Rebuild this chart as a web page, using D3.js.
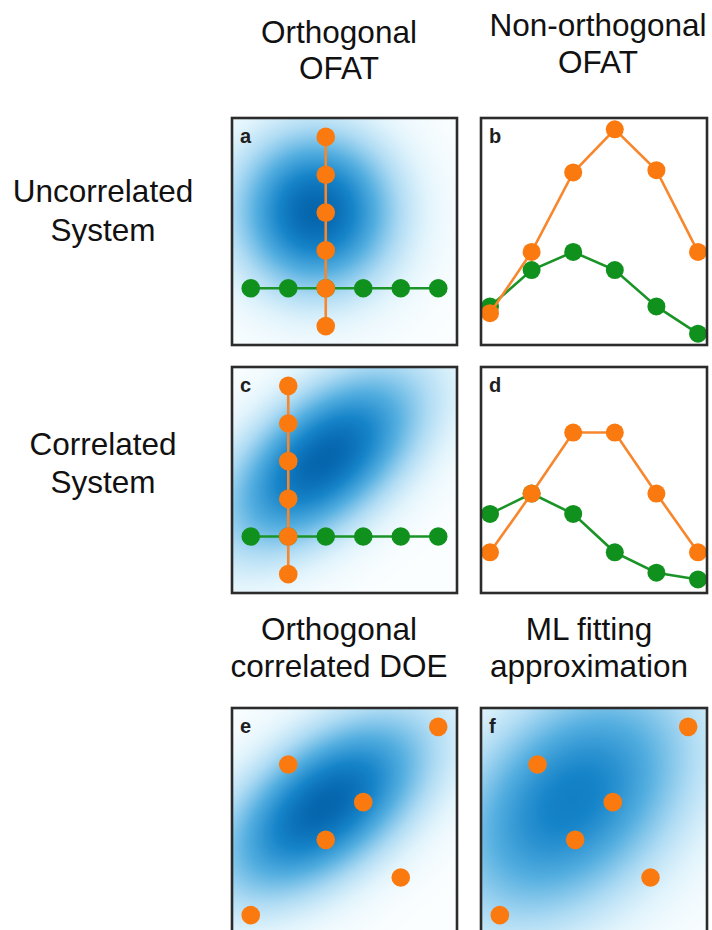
<!DOCTYPE html>
<html><head><meta charset="utf-8">
<script src="https://cdn.jsdelivr.net/npm/d3@7"></script>
<style>html,body{margin:0;padding:0;background:#fff;} svg{display:block;}</style>
</head><body>
<svg id="fig" width="712" height="930"></svg>
<script>
// Six settings per factor on every design axis
const levels = [0, 1, 2, 3, 4, 5];

// OFAT sweeps on the design grid: [x level, y level]
const sweepA_green  = [[0,1],[1,1],[2,1],[3,1],[4,1],[5,1]];
const sweepA_orange = [[2,0],[2,1],[2,2],[2,3],[2,4],[2,5]];
const sweepC_green  = [[0,1],[1,1],[2,1],[3,1],[4,1],[5,1]];
const sweepC_orange = [[1,0],[1,1],[1,2],[1,3],[1,4],[1,5]];

// Measured response along each sweep
const respB_orange = [1.4, 4.1, 7.6, 9.5, 7.7, 4.1];
const respB_green  = [1.7, 3.3, 4.1, 3.3, 1.7, 0.5];
const respD_orange = [1.8, 4.4, 7.1, 7.1, 4.4, 1.8];
const respD_green  = [3.5, 4.4, 3.5, 1.8, 0.9, 0.6];

// Space-filling design points
const doePoints = [[5,5],[1,4],[3,3],[2,2],[4,1],[0,0]];

// Response surfaces: centre x, centre y, sigma along axis, sigma across, angle (deg), peak
const surfA = [1.74, 3.02, 1.40, 1.40, 0, 1.0];
const surfC = [1.95, 3.05, 2.05, 1.10, 40, 1.0];
const surfE = [1.98, 2.90, 2.15, 1.15, 38, 1.0];
const surfF = [1.90, 3.05, 2.55, 1.70, 45, 0.82];

// Labels
const colTitlesTop = [["Orthogonal", "OFAT"], ["Non-orthogonal", "OFAT"]];
const rowTitles = [["Uncorrelated", "System"], ["Correlated", "System"]];
const colTitlesBottom = [["Orthogonal", "correlated DOE"], ["ML fitting", "approximation"]];
const panelLetters = ["a", "b", "c", "d", "e", "f"];

// Layout
const colX = [232, 481];
const colW = [225, 226];
const rowY = [118, 367, 708];
const rowH = [227, 226, 226];

const ORANGE = "#fb7a10", ORANGE_LINE = "#f7862c";
const GREEN = "#10901c", GREEN_LINE = "#1a9426";
const FONT = "'Liberation Sans', Arial, Helvetica, sans-serif";

const heatColor = d3.scaleLinear()
  .domain([0, 0.1, 0.28, 0.52, 0.78, 1])
  .range(["#fbfeff", "#e2f4fc", "#acdaf3", "#55afe0", "#1684c9", "#0565ad"])
  .interpolate(d3.interpolateRgb)
  .clamp(true);

const svg = d3.select("#fig");
const defs = svg.append("defs");

function panelFrame(col, row) {
  const x0 = colX[col], y0 = rowY[row], w = colW[col], h = rowH[row];
  return {x0, y0, w, h};
}

function gridScales(f) {
  const x = d3.scaleLinear().domain([-0.5, 5.5]).range([f.x0, f.x0 + f.w]);
  const y = d3.scaleLinear().domain([-0.5, 5.5]).range([f.y0 + f.h, f.y0]);
  return {x, y};
}

function drawHeat(g, f, sc, surf, id) {
  const [cx, cy, sa, sb, ang, peak] = surf;
  const th = ang * Math.PI / 180, c = Math.cos(th), s = Math.sin(th);
  const cv = document.createElement("canvas");
  cv.width = f.w; cv.height = f.h;
  const ctx = cv.getContext("2d");
  const img = ctx.createImageData(f.w, f.h);
  for (let py = 0; py < f.h; py++) {
    const dy = sc.y.invert(f.y0 + py + 0.5) - cy;
    for (let px = 0; px < f.w; px++) {
      const dx = sc.x.invert(f.x0 + px + 0.5) - cx;
      const u = dx * c + dy * s, v = -dx * s + dy * c;
      const val = peak * Math.exp(-0.5 * (u * u / (sa * sa) + v * v / (sb * sb)));
      const col = d3.rgb(heatColor(val));
      const k = (py * f.w + px) * 4;
      img.data[k] = col.r; img.data[k + 1] = col.g; img.data[k + 2] = col.b; img.data[k + 3] = 255;
    }
  }
  ctx.putImageData(img, 0, 0);
  defs.append("clipPath").attr("id", id)
    .append("rect").attr("x", f.x0).attr("y", f.y0).attr("width", f.w).attr("height", f.h);
  g.append("image")
    .attr("x", f.x0).attr("y", f.y0).attr("width", f.w).attr("height", f.h)
    .attr("preserveAspectRatio", "none")
    .attr("clip-path", `url(#${id})`)
    .attr("href", cv.toDataURL());
}

function drawSeries(g, pts, color, lineColor, r, withLine) {
  if (withLine) {
    g.append("path")
      .attr("d", d3.line().x(d => d[0]).y(d => d[1])(pts))
      .attr("fill", "none").attr("stroke", lineColor).attr("stroke-width", 2.6);
  }
  g.selectAll(null).data(pts).join("circle")
    .attr("cx", d => d[0]).attr("cy", d => d[1]).attr("r", r)
    .attr("fill", color);
}

function drawBorder(g, f, letter) {
  g.append("rect")
    .attr("x", f.x0).attr("y", f.y0).attr("width", f.w).attr("height", f.h)
    .attr("fill", "none").attr("stroke", "#2b2b2b").attr("stroke-width", 2.6);
  g.append("text")
    .attr("x", f.x0 + 8).attr("y", f.y0 + 25)
    .attr("font-family", FONT).attr("font-weight", "bold").attr("font-size", 20)
    .attr("fill", "#1e1e1e").text(letter);
}

// Design-space panels (a, c)
function ofatPanel(col, row, surf, greenSweep, orangeSweep, letter, id) {
  const f = panelFrame(col, row), sc = gridScales(f);
  const g = svg.append("g");
  drawHeat(g, f, sc, surf, id);
  const gp = greenSweep.map(d => [sc.x(levels[d[0]]), sc.y(levels[d[1]])]);
  const op = orangeSweep.map(d => [sc.x(levels[d[0]]), sc.y(levels[d[1]])]);
  drawSeries(g, gp, GREEN, GREEN_LINE, 9.3, true);
  drawSeries(g, op, ORANGE, ORANGE_LINE, 9.3, true);
  drawBorder(g, f, letter);
}

// Response panels (b, d)
function responsePanel(col, row, green, orange, letter) {
  const f = panelFrame(col, row);
  const x = d3.scaleLinear().domain([0, 5]).range([f.x0 + 9, f.x0 + f.w - 9]);
  const y = d3.scaleLinear().domain([0, 10]).range([f.y0 + f.h, f.y0]);
  const g = svg.append("g");
  defs.append("clipPath").attr("id", "clip" + letter)
    .append("rect").attr("x", f.x0).attr("y", f.y0).attr("width", f.w).attr("height", f.h);
  const inner = g.append("g").attr("clip-path", `url(#clip${letter})`);
  drawSeries(inner, green.map((v, i) => [x(levels[i]), y(v)]), GREEN, GREEN_LINE, 9, true);
  drawSeries(inner, orange.map((v, i) => [x(levels[i]), y(v)]), ORANGE, ORANGE_LINE, 9, true);
  drawBorder(g, f, letter);
}

// DOE panels (e, f)
function doePanel(col, row, surf, letter, id) {
  const f = panelFrame(col, row), sc = gridScales(f);
  const g = svg.append("g");
  drawHeat(g, f, sc, surf, id);
  drawSeries(g, doePoints.map(d => [sc.x(levels[d[0]]), sc.y(levels[d[1]])]), ORANGE, ORANGE_LINE, 9.3, false);
  drawBorder(g, f, letter);
}

ofatPanel(0, 0, surfA, sweepA_green, sweepA_orange, panelLetters[0], "heatA");
responsePanel(1, 0, respB_green, respB_orange, panelLetters[1]);
ofatPanel(0, 1, surfC, sweepC_green, sweepC_orange, panelLetters[2], "heatC");
responsePanel(1, 1, respD_green, respD_orange, panelLetters[3]);
doePanel(0, 2, surfE, panelLetters[4], "heatE");
doePanel(1, 2, surfF, panelLetters[5], "heatF");

// Titles
function twoLine(lines, cx, baseline, gap) {
  const t = svg.append("text")
    .attr("font-family", FONT).attr("font-size", 31.5).attr("fill", "#111")
    .attr("text-anchor", "middle");
  lines.forEach((s, i) => {
    t.append("tspan").attr("x", cx).attr("y", baseline + i * gap).text(s);
  });
}
twoLine(colTitlesTop[0], 339, 43, 36);
twoLine(colTitlesTop[1], 598, 36, 37);
twoLine(rowTitles[0], 103, 202, 39);
twoLine(rowTitles[1], 103, 455, 38);
twoLine(colTitlesBottom[0], 339, 640, 37);
twoLine(colTitlesBottom[1], 589, 640, 37);
</script>
</body></html>
